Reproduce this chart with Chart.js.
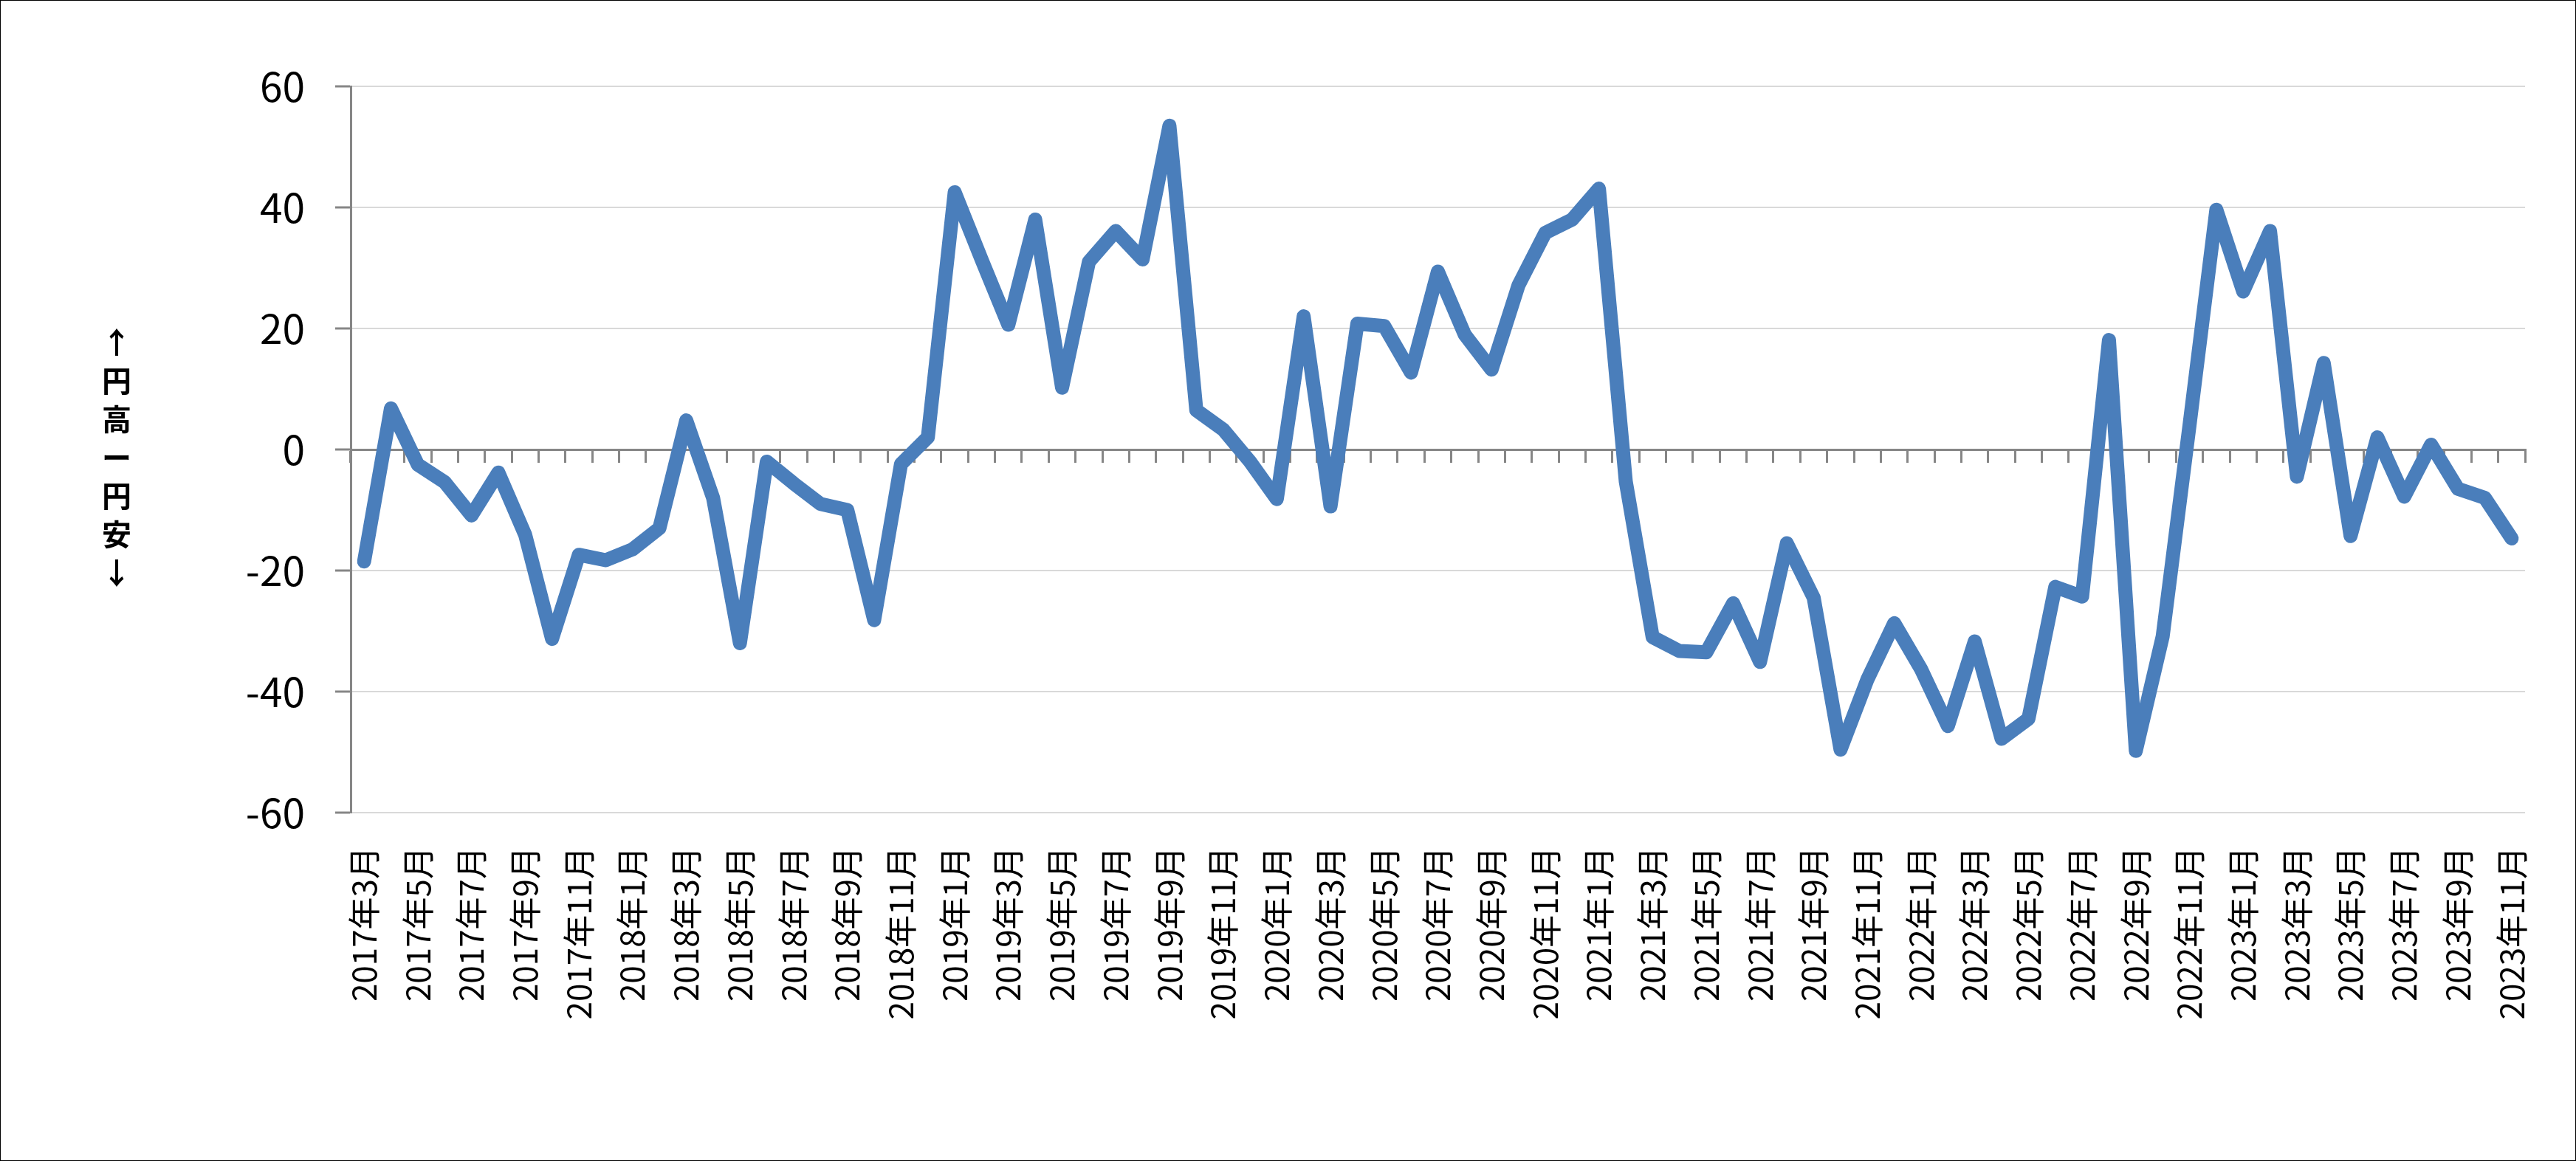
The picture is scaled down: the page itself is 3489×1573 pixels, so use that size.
<!DOCTYPE html>
<html lang="ja">
<head>
<meta charset="UTF-8">
<title>円高ー円安</title>
<script src="https://cdn.jsdelivr.net/npm/chart.js"></script>
<style>
  body { margin: 0; background: #fff; }
  #wrap { position: relative; width: 3489px; height: 1573px; }
  #frame {
    position: absolute; left: 0; top: 0; width: 3489px; height: 1573px;
    box-sizing: border-box; border: 1px solid #000; pointer-events: none;
  }
  #ytitle {
    position: absolute; left: 138px; top: 436px; width: 40px;
    font: bold 40px "Noto Sans CJK JP"; line-height: 52px; text-align: center;
  }
</style>
</head>
<body>
<div id="wrap">
  <canvas id="chart" width="3489" height="1573"></canvas>
  <div id="ytitle">↑<br>円<br>高<br>ー<br>円<br>安<br>↓</div>
  <div id="frame"></div>
</div>

<script>
// months, 2017年3月 - 2023年11月
var months = [
  '2017年3月','2017年4月','2017年5月','2017年6月','2017年7月','2017年8月','2017年9月','2017年10月','2017年11月','2017年12月',
  '2018年1月','2018年2月','2018年3月','2018年4月','2018年5月','2018年6月','2018年7月','2018年8月','2018年9月','2018年10月','2018年11月','2018年12月',
  '2019年1月','2019年2月','2019年3月','2019年4月','2019年5月','2019年6月','2019年7月','2019年8月','2019年9月','2019年10月','2019年11月','2019年12月',
  '2020年1月','2020年2月','2020年3月','2020年4月','2020年5月','2020年6月','2020年7月','2020年8月','2020年9月','2020年10月','2020年11月','2020年12月',
  '2021年1月','2021年2月','2021年3月','2021年4月','2021年5月','2021年6月','2021年7月','2021年8月','2021年9月','2021年10月','2021年11月','2021年12月',
  '2022年1月','2022年2月','2022年3月','2022年4月','2022年5月','2022年6月','2022年7月','2022年8月','2022年9月','2022年10月','2022年11月','2022年12月',
  '2023年1月','2023年2月','2023年3月','2023年4月','2023年5月','2023年6月','2023年7月','2023年8月','2023年9月','2023年10月','2023年11月'
];

// values
var values = [
  -18.5, 6.8, -2.5, -5.4, -10.9, -3.8, -14.1, -31.3, -17.4, -18.3,
  -16.5, -13.0, 4.8, -8.0, -32.0, -2.0, -5.6, -9.0, -10.0, -28.2, -2.4, 2.0,
  42.5, 31.4, 20.6, 38.0, 10.2, 31.0, 36.1, 31.4, 53.5, 6.5, 3.3, -2.0,
  -8.2, 22.0, -9.4, 20.8, 20.4, 12.7, 29.4, 19.0, 13.2, 27.1, 35.8, 38.0,
  43.1, -5.3, -31.0, -33.3, -33.5, -25.4, -35.1, -15.5, -24.5, -49.6, -38.0, -28.7,
  -36.3, -45.7, -31.7, -47.8, -44.5, -22.7, -24.3, 18.1, -49.8, -30.9, 4.0, 39.6,
  26.1, 36.1, -4.5, 14.3, -14.3, 2.0, -7.8, 0.8, -6.5, -8.0, -14.7
];

var yMin = -60, yMax = 60, yStep = 20;

var fontFamily = '"Noto Sans CJK JP", "Noto Sans", sans-serif';
var axisGray = '#868686';
var gridGray = '#D9D9D9';

var ctx = document.getElementById('chart').getContext('2d');
var chart = new Chart(ctx, {
  type: 'line',
  data: {
    labels: months,
    datasets: [{
      data: values,
      xAxisID: 'x',
      yAxisID: 'y',
      borderColor: '#4A7EBB',
      borderWidth: 19,
      borderJoinStyle: 'round',
      borderCapStyle: 'round',
      pointRadius: 0,
      tension: 0,
      fill: false
    }]
  },
  options: {
    responsive: false,
    animation: false,
    devicePixelRatio: 1,
    layout: { padding: { left: 0, top: 117, right: 69, bottom: 0 } },
    plugins: {
      legend: { display: false },
      tooltip: { enabled: false }
    },
    scales: {
      y: {
        min: yMin,
        max: yMax,
        ticks: {
          stepSize: yStep,
          padding: 41,
          color: '#000',
          font: { family: fontFamily, size: 55 }
        },
        grid: {
          color: function(c) { return c.tick && c.tick.value === 0 ? axisGray : gridGray; },
          lineWidth: 2,
          tickColor: axisGray,
          tickLength: 21,
          tickWidth: 3
        },
        border: { color: axisGray, width: 3 },
        afterFit: function(scale) { scale.width = 475; }
      },
      // axis line with tick marks crossing at zero
      x: {
        type: 'category',
        position: { y: 0 },
        offset: true,
        ticks: { display: false },
        grid: {
          offset: true,
          drawOnChartArea: false,
          drawTicks: true,
          tickLength: 16,
          tickColor: axisGray,
          tickWidth: 3,
          color: axisGray,
          lineWidth: 3
        },
        border: { color: axisGray, width: 3 }
      },
      // labels at the bottom of the plot
      x2: {
        type: 'category',
        position: 'bottom',
        offset: true,
        grid: { display: false, drawTicks: false },
        border: { display: false },
        ticks: {
          autoSkip: false,
          minRotation: 90,
          maxRotation: 90,
          padding: 46,
          color: '#000',
          font: { family: fontFamily, size: 44 },
          callback: function(v, i) { return i % 2 === 0 ? months[i] : ''; }
        },
        afterFit: function(scale) {
          scale.height = 472;
          scale.paddingLeft = 0;
          scale.paddingRight = 0;
        }
      }
    }
  }
});
</script>
</body>
</html>
